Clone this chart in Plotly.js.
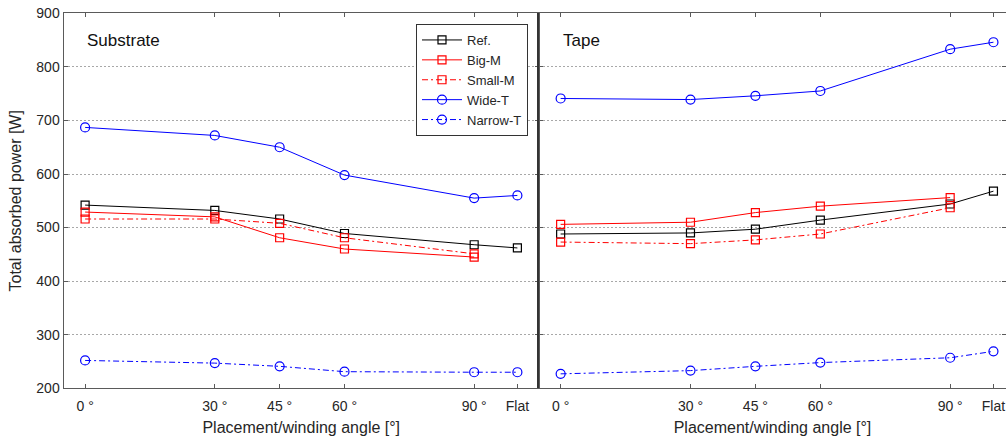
<!DOCTYPE html>
<html>
<head>
<meta charset="utf-8">
<script src="https://cdn.plot.ly/plotly-3.0.1.min.js"></script>
<style>
  html, body { margin: 0; padding: 0; background: #fff; }
  #chart { width: 1006px; height: 436px; }
</style>
</head>
<body>
<div id="chart"></div>
<script>
// Placement / winding angle positions (Flat drawn at 100)
const angles = [0, 30, 45, 60, 90, 100];
const angleLabels = ['0 °', '30 °', '45 °', '60 °', '90 °', 'Flat'];

// Total absorbed power [W] – Substrate
const subRef    = [542, 532, 516, 489, 468, 462];
const subBigM   = [529, 520, 481, 460, 445];
const subSmallM = [516, 516, 508, 481, 451];
const subWideT  = [687, 672, 650, 598, 555, 560];
const subNarrowT = [252, 247, 241, 231, 230, 230];

// Total absorbed power [W] – Tape
const tapeRef    = [488, 490, 497, 514, 544, 568];
const tapeBigM   = [506, 510, 528, 540, 556];
const tapeSmallM = [473, 470, 477, 488, 537];
const tapeWideT  = [741, 739, 746, 755, 833, 846];
const tapeNarrowT = [227, 233, 241, 248, 257, 269];

const seriesNames = ['Ref.', 'Big-M', 'Small-M', 'Wide-T', 'Narrow-T'];

const dashDot = '6px,3px,2px,3px';
const styles = [
  { color: '#000000', dash: 'solid', symbol: 'square-open', size: 8 },
  { color: '#ff0000', dash: 'solid', symbol: 'square-open', size: 8 },
  { color: '#ff0000', dash: dashDot, symbol: 'square-open', size: 8 },
  { color: '#0000ff', dash: 'solid', symbol: 'circle-open', size: 9 },
  { color: '#0000ff', dash: dashDot, symbol: 'circle-open', size: 9 }
];

function makeTrace(values, i, xa, ya, showLegend) {
  const s = styles[i];
  return {
    type: 'scatter',
    mode: 'lines+markers',
    name: seriesNames[i],
    x: angles.slice(0, values.length),
    y: values,
    xaxis: xa,
    yaxis: ya,
    showlegend: showLegend,
    line: { color: s.color, width: 1, dash: s.dash },
    marker: { symbol: s.symbol, size: s.size, color: s.color, line: { width: 1.2, color: s.color } }
  };
}

const subSets = [subRef, subBigM, subSmallM, subWideT, subNarrowT];
const tapeSets = [tapeRef, tapeBigM, tapeSmallM, tapeWideT, tapeNarrowT];

const traces = [];
subSets.forEach((v, i) => traces.push(makeTrace(v, i, 'x', 'y', true)));
tapeSets.forEach((v, i) => traces.push(makeTrace(v, i, 'x2', 'y2', false)));

const figW = 1006, figH = 436;
const plotLeft = 63.5, plotMid = 539, plotTop = 13.3, plotBottom = 388.3;
const yDomain = [(figH - plotBottom) / figH, (figH - plotTop) / figH];

const fontFamily = 'Liberation Sans, Arial, sans-serif';
const textColor = '#262626';
const axisColor = '#5a5a5a';
const tickFont = { family: fontFamily, size: 14, color: textColor };
const titleFont = { family: fontFamily, size: 16, color: textColor };

function xAxis(domain, range, anchor) {
  return {
    domain: domain,
    range: range,
    anchor: anchor,
    tickmode: 'array',
    tickvals: angles,
    ticktext: angleLabels,
    ticks: 'inside',
    ticklen: 4,
    tickcolor: axisColor,
    ticklabelstandoff: 5,
    showline: true,
    linecolor: axisColor,
    linewidth: 1,
    mirror: 'ticks',
    showgrid: false,
    zeroline: false,
    tickfont: tickFont,
    title: { text: 'Placement/winding angle [°]', font: titleFont }
  };
}

function yAxis(anchor, showLabels) {
  return {
    domain: yDomain,
    range: [200, 900],
    anchor: anchor,
    tickvals: [200, 300, 400, 500, 600, 700, 800, 900],
    showticklabels: showLabels,
    ticks: 'inside',
    ticklen: 4,
    tickcolor: axisColor,
    showline: true,
    linecolor: axisColor,
    linewidth: 1,
    mirror: 'ticks',
    showgrid: true,
    gridcolor: '#a8a8a8',
    griddash: '2px,2px',
    gridwidth: 1,
    zeroline: false,
    tickfont: tickFont
  };
}

const layout = {
  width: figW,
  height: figH,
  margin: { l: 0, r: 0, t: 0, b: 0 },
  paper_bgcolor: '#ffffff',
  plot_bgcolor: '#ffffff',
  font: { family: fontFamily, color: textColor },
  xaxis: xAxis([plotLeft / figW, plotMid / figW], [-5, 105], 'y'),
  yaxis: Object.assign(yAxis('x', true), {
    title: { text: 'Total absorbed power [W]', font: titleFont }
  }),
  xaxis2: xAxis([plotMid / figW, 1], [-5, 102.9], 'y2'),
  // the shared edge between the two panels is drawn heavier
  yaxis2: Object.assign(yAxis('x2', false), { linewidth: 2, linecolor: '#333333' }),
  legend: {
    x: 416 / figW,
    y: (figH - 24) / figH,
    xanchor: 'left',
    yanchor: 'top',
    bgcolor: '#ffffff',
    bordercolor: '#333333',
    borderwidth: 1,
    itemwidth: 40,
    font: { family: fontFamily, size: 13, color: textColor },
    tracegroupgap: 0
  },
  annotations: [
    {
      text: 'Substrate', xref: 'x', yref: 'y', x: 0, y: 850,
      xanchor: 'left', yanchor: 'middle', showarrow: false,
      font: { family: fontFamily, size: 17, color: '#111111' }
    },
    {
      text: 'Tape', xref: 'x2', yref: 'y2', x: 0, y: 850,
      xanchor: 'left', yanchor: 'middle', showarrow: false,
      font: { family: fontFamily, size: 17, color: '#111111' }
    }
  ]
};

Plotly.newPlot('chart', traces, layout, { displayModeBar: false, staticPlot: true });
</script>
</body>
</html>
